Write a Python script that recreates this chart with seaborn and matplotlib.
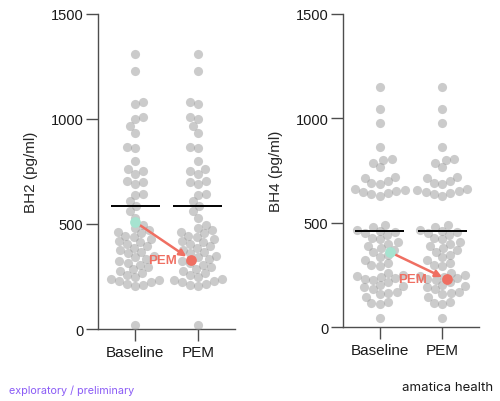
import matplotlib
matplotlib.use('Agg')
from matplotlib import pyplot as plt
import seaborn as sns
import pandas as pd

# Values (pg/ml); same cohort shown at both time points
timepoints = ['Baseline', 'PEM']
bh2_values = [1310, 1230, 1080, 1070, 1010, 1000, 965, 935, 865, 860, 800, 760, 750, 740,
              705, 700, 690, 645, 640, 610, 585, 560, 530, 495, 480, 470, 462, 455, 445, 438,
              430, 420, 412, 405, 395, 385, 378, 368, 360, 350, 342, 332, 322, 315, 305, 295,
              285, 278, 268, 255, 248, 240, 235, 228, 222, 215, 210, 205, 20]
bh4_values = [1150, 1045, 975, 860, 805, 800, 785, 765, 720, 715, 700, 690, 685, 660, 655, 650,
              645, 640, 635, 630, 490, 480, 465, 460, 455, 450, 440, 425, 420, 405, 400, 390,
              380, 370, 360, 345, 335, 320, 305, 295, 290, 260, 250, 245, 240, 235, 230, 225,
              215, 200, 195, 190, 180, 170, 165, 160, 145, 120, 115, 110, 45]
mean_lines = [585, 460]          # black bars, BH2 then BH4
highlight_baseline = [510, 358]  # teal point
highlight_pem = [330, 228]       # red point
y_labels = ['BH2 (pg/ml)', 'BH4 (pg/ml)']

GRAY = '#999999'
TEAL = '#a6e3d0'
RED = '#ef6f62'
AXIS = '#4d4d4d'
DOT = 6.6         # drawn marker diameter (pt)
SWARM_DOT = 5.8   # diameter used for the swarm layout, so dots overlap a bit

sns.set_style('white')
plt.rcParams['font.family'] = ['Liberation Sans', 'DejaVu Sans']

fig = plt.figure(figsize=(5, 4.02), dpi=100)
axes = [fig.add_axes([0.196, 0.179, 0.274, 0.784]),
        fig.add_axes([0.686, 0.184, 0.272, 0.779])]

# small offsets of the highlighted subject inside the swarm, and of the label
base_dx = [0.0, 0.17]
pem_dx = [-0.11, 0.08]
label_dx = [0.22, 0.32]

swarms = []
for i, (ax, values) in enumerate(zip(axes, [bh2_values, bh4_values])):
    df = pd.DataFrame({
        'timepoint': [t for t in timepoints for _ in values],
        'value': values * len(timepoints),
    })
    sns.swarmplot(data=df, x='timepoint', y='value', order=timepoints, ax=ax,
                  color=GRAY, alpha=0.5, size=SWARM_DOT, linewidth=0)
    swarms += list(ax.collections)

    for k in range(len(timepoints)):
        ax.hlines(mean_lines[i], k - 0.39, k + 0.39, color='black', lw=1.4, zorder=3)

    x0, y0 = 0 + base_dx[i], highlight_baseline[i]
    x1, y1 = 1 + pem_dx[i], highlight_pem[i]
    ax.annotate('', xy=(x1, y1), xytext=(x0, y0),
                arrowprops=dict(arrowstyle='-|>', color=RED, lw=1.8,
                                shrinkA=4, shrinkB=4, mutation_scale=10), zorder=4)
    ax.scatter([x0], [y0], s=60, color=TEAL, zorder=5, linewidths=0)
    ax.scatter([x1], [y1], s=60, color=RED, zorder=5, linewidths=0)
    ax.text(x1 - label_dx[i], y1, 'PEM', color=RED, fontsize=9.5, fontweight='bold',
            ha='right', va='center', zorder=5)

    ax.set_xlim(-0.59, 1.59)
    ax.set_ylim(0, 1500)
    ax.set_yticks([0, 500, 1000, 1500])
    ax.set_xlabel('')
    ax.set_ylabel(y_labels[i], fontsize=11, labelpad=9)
    sns.despine(ax=ax)
    for side in ['left', 'bottom']:
        ax.spines[side].set_color(AXIS)
        ax.spines[side].set_linewidth(1.0)
    ax.tick_params(axis='both', length=8.5, width=1.0, color=AXIS, labelsize=10.5,
                   labelcolor='#1a1a1a', left=True, bottom=True)
    ax.tick_params(axis='x', labelsize=11, pad=3)
    ax.tick_params(axis='y', pad=2)

fig.text(0.018, 0.028, 'exploratory / preliminary', color='#8b5cf6', fontsize=7.8,
         family=['Inter', 'DejaVu Sans'], va='center')
fig.text(0.986, 0.034, 'amatica health', color='#1a1a1a', fontsize=9.5,
         family=['Inter', 'DejaVu Sans'], ha='right', va='center')

# lay the swarm out with the smaller dot, then freeze it and draw bigger dots
fig.canvas.draw()
for points in swarms:
    if 'draw' in points.__dict__:
        del points.draw
        points.set_sizes([DOT ** 2])

fig.savefig('out.png', dpi=100)
